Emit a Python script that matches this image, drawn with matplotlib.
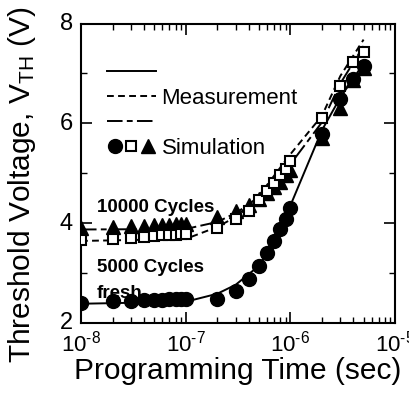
import numpy as np
import matplotlib
matplotlib.use('Agg')
import matplotlib.pyplot as plt
import matplotlib.transforms as mtransforms
from matplotlib.lines import Line2D
from matplotlib.legend_handler import HandlerTuple
from matplotlib.ticker import LogLocator, MultipleLocator, NullFormatter, FuncFormatter

plt.rcParams['font.family'] = ['Liberation Sans', 'DejaVu Sans']
plt.rcParams['mathtext.fontset'] = 'custom'
plt.rcParams['mathtext.rm'] = 'Liberation Sans'
plt.rcParams['mathtext.it'] = 'Liberation Sans:italic'
plt.rcParams['mathtext.bf'] = 'Liberation Sans:bold'

# simulation points (markers)
t_sim = [1e-8, 2e-8, 3e-8, 4e-8, 5e-8, 6e-8, 7e-8, 8e-8, 9e-8, 1e-7,
         2e-7, 3e-7, 4e-7, 5e-7, 6e-7, 7e-7, 8e-7, 9e-7, 1e-6,
         2e-6, 3e-6, 4e-6, 5e-6]
sim_fresh = [2.40, 2.44, 2.44, 2.45, 2.46, 2.46, 2.47, 2.47, 2.47, 2.47,
             2.47, 2.64, 2.88, 3.14, 3.39, 3.64, 3.87, 4.09, 4.31,
             5.78, 6.48, 6.88, 7.15]
sim_5000 = [3.66, 3.67, 3.69, 3.72, 3.74, 3.75, 3.76, 3.76, 3.77, 3.78,
            3.90, 4.09, 4.25, 4.47, 4.64, 4.81, 4.96, 5.09, 5.25,
            6.10, 6.74, 7.23, 7.43]
sim_10000 = [3.90, 3.92, 3.93, 3.94, 3.95, 3.95, 3.96, 3.97, 3.97, 3.98,
             4.12, 4.25, 4.37, 4.48, 4.60, 4.72, 4.83, 4.96, 5.06,
             5.70, 6.30, 6.86, 7.10]

# measurement curves (lines)
t_meas = [1e-8, 1e-7, 2e-7, 3e-7, 5e-7, 7e-7, 1e-6, 2e-6, 3e-6, 5e-6]
meas_fresh = [2.38, 2.42, 2.58, 2.76, 3.14, 3.62, 4.35, 5.86, 6.52, 7.20]
meas_5000 = [3.64, 3.68, 3.92, 4.12, 4.55, 4.95, 5.38, 6.15, 6.95, 7.68]
meas_10000 = [3.87, 3.88, 4.02, 4.20, 4.50, 4.82, 5.18, 6.02, 6.80, 7.55]

lw = 1.4
dash = (3.5, 2.2)
dashdot = (8, 2.2, 3, 2.2)

fig = plt.figure(figsize=(4.09, 3.94), dpi=100)
ax = fig.add_axes([0.198, 0.181, 0.768, 0.759])

ax.plot(t_meas, meas_fresh, color='black', lw=lw, zorder=2)
ax.plot(t_meas, meas_5000, color='black', lw=lw, dashes=dash, zorder=2)
ax.plot(t_meas, meas_10000, color='black', lw=lw, dashes=dashdot, zorder=2)

ax.plot(t_sim, sim_10000, ls='none', marker='^', ms=9.5, color='black', zorder=3)
ax.plot(t_sim, sim_5000, ls='none', marker='s', ms=7.5, mfc='white', mec='black',
        mew=1.5, zorder=4)
ax.plot(t_sim, sim_fresh, ls='none', marker='o', ms=10, color='black', zorder=5)

ax.text(0.051, 0.386, '10000 Cycles', transform=ax.transAxes, fontsize=13.5,
        fontweight='bold', va='center', ha='left', zorder=1)
ax.text(0.051, 0.186, '5000 Cycles', transform=ax.transAxes, fontsize=13.5,
        fontweight='bold', va='center', ha='left', zorder=1)
ax.text(0.051, 0.099, 'fresh', transform=ax.transAxes, fontsize=13.5,
        fontweight='bold', va='center', ha='left', zorder=1)

# legend
h_solid = Line2D([], [], color='black', lw=lw)
h_dash = Line2D([], [], color='black', lw=lw, dashes=dash)
h_dd = Line2D([], [], color='black', lw=lw, dashes=dashdot)
h_c = Line2D([], [], ls='none', marker='o', ms=10, color='black')
h_s = Line2D([], [], ls='none', marker='s', ms=7.5, mfc='white', mec='black', mew=1.5)
h_t = Line2D([], [], ls='none', marker='^', ms=9.5, color='black')
ax.legend([h_solid, h_dash, h_dd, (h_c, h_s, h_t)],
          [' ', 'Measurement', ' ', 'Simulation'],
          handler_map={tuple: HandlerTuple(ndivide=None, pad=0.0)},
          loc='upper left', bbox_to_anchor=(0.083, 0.868), frameon=False,
          fontsize=16, handlelength=2.2, handletextpad=0.25,
          labelspacing=0.18, borderpad=0, borderaxespad=0)

ax.set_xscale('log')
ax.set_xlim(1e-8, 1e-5)
ax.set_ylim(2, 8)
ax.xaxis.set_major_locator(LogLocator(base=10, numticks=10))
ax.xaxis.set_minor_locator(LogLocator(base=10, subs=np.arange(2, 10), numticks=10))
ax.xaxis.set_minor_formatter(NullFormatter())


def pow10(v, pos):
    e = int(round(np.log10(v)))
    return '$\\mathregular{10^{\u2010%d}}$' % (-e)


ax.xaxis.set_major_formatter(FuncFormatter(pow10))
ax.yaxis.set_major_locator(MultipleLocator(2))
ax.yaxis.set_minor_locator(MultipleLocator(1))

ax.tick_params(which='both', direction='in', top=True, right=True)
ax.tick_params(axis='x', labelsize=16)
ax.tick_params(axis='y', labelsize=17)
ax.tick_params(which='major', length=8, width=1.2, pad=6)
ax.tick_params(which='minor', length=4, width=1.0)
for s in ax.spines.values():
    s.set_linewidth(1.5)

# nudge y tick labels up a little
shift = mtransforms.ScaledTranslation(0, 2 / 100, fig.dpi_scale_trans)
for lab in ax.get_yticklabels():
    lab.set_transform(lab.get_transform() + shift)

ax.set_xlabel('Programming Time (sec)', fontsize=21.5)
ax.set_ylabel('Threshold Voltage, V$_{\\rm TH}$ (V)', fontsize=21.5)
ax.xaxis.set_label_coords(0.5, -0.115)
ax.yaxis.set_label_coords(-0.137, 0.462)

fig.savefig('out.png', dpi=100)
